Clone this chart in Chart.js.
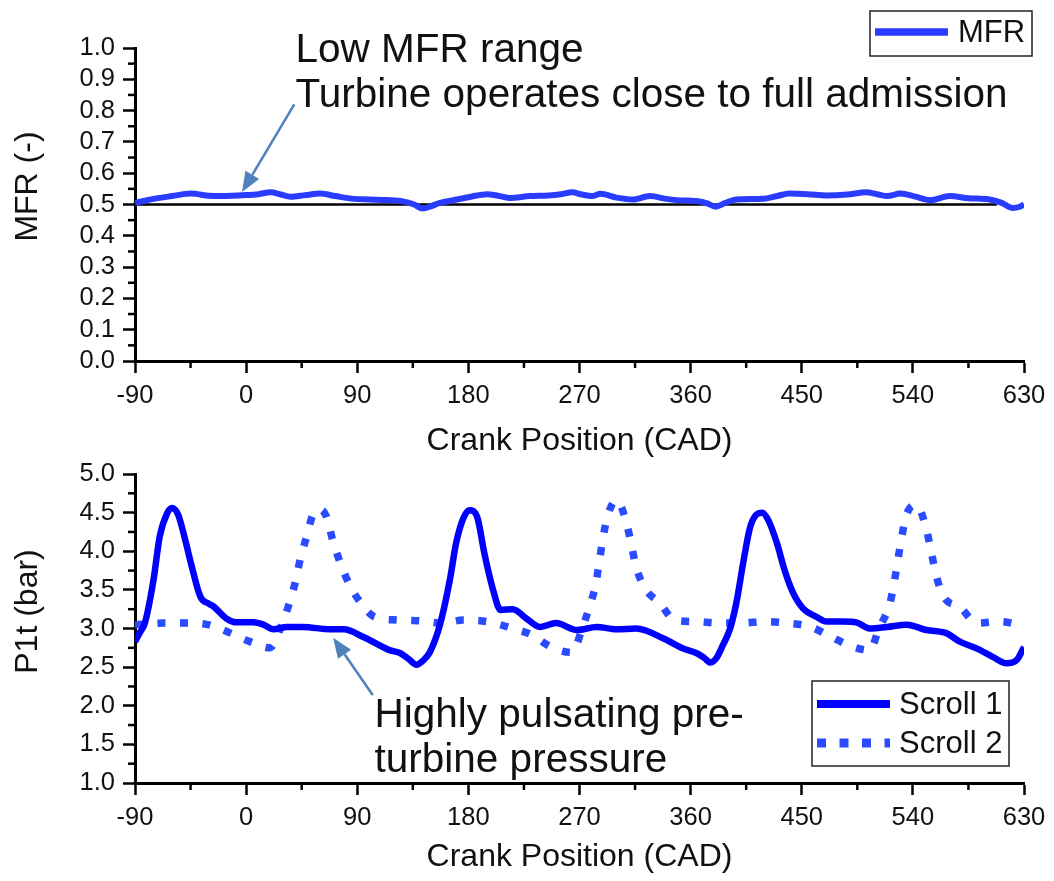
<!DOCTYPE html>
<html><head><meta charset="utf-8">
<script src="https://cdn.jsdelivr.net/npm/chart.js@4.4.1/dist/chart.umd.min.js"></script>
<style>
html,body{margin:0;padding:0;background:#fff;}
body{width:1054px;height:881px;position:relative;overflow:hidden;}
canvas{position:absolute;left:0;}
#c1{top:0;} #c2{top:450px;}
</style></head><body>
<canvas id="c1" width="1054" height="470"></canvas>
<canvas id="c2" width="1054" height="431"></canvas>
<script>
// ---------- data ----------
const xTickLabels = [-90, 0, 90, 180, 270, 360, 450, 540, 630];
const mfrYTicks = [0.0,0.1,0.2,0.3,0.4,0.5,0.6,0.7,0.8,0.9,1.0];
const p1tYTicks = [1.0,1.5,2.0,2.5,3.0,3.5,4.0,4.5,5.0];

const mfrDeg = [-90,-75,-60,-45,-30,-21,0,10,20,28,36,48,60,72,87,100,114,127,136,143,150,157,168,182,195,204,213,230,245,255,264,272,280,287,300,313,327,340,349,365,374,380,388,397,418,430,440,455,470,487,502,512,519,530,542,554,570,585,602,612,621,626,630];
const mfrVal = [0.505,0.518,0.527,0.535,0.528,0.527,0.530,0.533,0.539,0.532,0.525,0.530,0.535,0.527,0.518,0.516,0.514,0.510,0.500,0.487,0.495,0.505,0.514,0.525,0.533,0.528,0.521,0.527,0.529,0.533,0.539,0.532,0.527,0.534,0.522,0.516,0.527,0.518,0.514,0.511,0.503,0.493,0.505,0.516,0.518,0.527,0.535,0.533,0.529,0.532,0.539,0.532,0.527,0.535,0.525,0.514,0.527,0.520,0.516,0.505,0.489,0.492,0.500];
const refDeg = [-90, 608];
const refVal = [0.5, 0.5];

const s1Deg = [-90,-86,-82,-75,-70,-64,-60,-55,-50,-44,-37,-30,-26,-16,-8,6,14,22,33,46,68,79,95,116,125,132,138,143,149,157,165,170,176,181,187,193,200,206,216,227,238,251,268,284,300,316,338,354,365,371,376,381,386,392,397,403,408,413,418,423,430,436,443,451,462,470,484,494,505,519,535,551,567,578,592,605,616,624,630];
const s1Val = [2.83,2.95,3.07,3.63,4.19,4.49,4.56,4.47,4.19,3.80,3.41,3.32,3.28,3.13,3.08,3.08,3.05,2.99,3.02,3.02,2.99,2.99,2.89,2.72,2.68,2.60,2.53,2.58,2.70,3.05,3.63,4.10,4.43,4.53,4.45,3.97,3.50,3.24,3.25,3.13,3.02,3.07,2.98,3.02,2.99,3.00,2.87,2.74,2.68,2.62,2.56,2.62,2.78,3.00,3.33,3.89,4.30,4.47,4.50,4.40,4.10,3.76,3.46,3.26,3.15,3.09,3.09,3.08,3.00,3.02,3.05,2.98,2.94,2.83,2.74,2.63,2.55,2.59,2.76];

const s2Deg = [-90,-67,-49,-31,-14,3,19,29,35,40,44,49,54,60,65,70,76,83,92,104,122,141,158,176,195,214,231,247,264,272,278,283,286,289,293,300,308,312,316,323,335,347,365,382,401,420,439,457,473,490,505,513,521,525,528,531,535,543,551,555,559,565,578,592,611,630];
const s2Val = [3.05,3.07,3.07,3.05,2.95,2.83,2.75,3.05,3.33,3.61,3.91,4.19,4.47,4.54,4.45,4.15,3.86,3.59,3.35,3.15,3.11,3.10,3.07,3.11,3.09,3.01,2.92,2.76,2.69,2.99,3.28,3.56,3.86,4.17,4.47,4.66,4.37,4.08,3.79,3.52,3.33,3.11,3.09,3.07,3.07,3.09,3.07,3.02,2.90,2.77,2.72,3.02,3.30,3.61,3.90,4.19,4.48,4.60,4.28,3.98,3.68,3.41,3.28,3.07,3.09,3.03];

const pts = (xs, ys) => xs.map((x, i) => ({x, y: ys[i]}));

// ---------- styling helpers ----------
const FONT = "'Liberation Sans', Arial, Helvetica, sans-serif";
const TXT = '#111';

function xScale(h, padBottom) {
  return {
    type:'linear', min:xTickLabels[0], max:xTickLabels[xTickLabels.length-1],
    afterFit: s => { s.height = h; },
    afterBuildTicks: s => { s.ticks = xTickLabels.map(v => ({value:v})); },
    border:{display:true, color:'#000', width:3},
    grid:{drawOnChartArea:false, drawTicks:true, tickLength:12, tickWidth:2.5, tickColor:'#000', color:'#000'},
    ticks:{padding:8, color:TXT, font:{family:FONT, size:25.5}, maxRotation:0, autoSkip:false, callback:v => String(v)},
    title:{display:true, text:'Crank Position (CAD)', color:TXT, font:{family:FONT, size:32}, padding:{top:0, bottom:padBottom}}
  };
}
function yScale(tickVals) {
  return {
    type:'linear', min:tickVals[0], max:tickVals[tickVals.length-1],
    afterFit: s => { s.width = 135; },
    afterBuildTicks: s => { s.ticks = tickVals.map(v => ({value:v})); },
    border:{display:true, color:'#000', width:3},
    grid:{drawOnChartArea:false, drawTicks:true, tickLength:12, tickWidth:2.5, tickColor:'#000', color:'#000'},
    ticks:{padding:8, color:TXT, font:{family:FONT, size:25.5}, autoSkip:false, callback:v => Number(v).toFixed(1)},
    title:{display:false}
  };
}

// minor ticks
const minorTicks = {
  id:'minorTicks',
  afterDraw(chart, args, o) {
    const ctx = chart.ctx, xs = chart.scales.x, ys = chart.scales.y;
    ctx.save(); ctx.strokeStyle = '#000'; ctx.lineWidth = 2.5;
    for (let v = xs.min + o.xStep; v < xs.max; v += 2*o.xStep) {
      const p = xs.getPixelForValue(v);
      ctx.beginPath(); ctx.moveTo(p, xs.top); ctx.lineTo(p, xs.top + 7); ctx.stroke();
    }
    const n = Math.round((ys.max - ys.min) / o.yStep);
    for (let i = 1; i < n; i++) {
      const v = ys.min + i*o.yStep;
      if (Math.abs(v / o.yMajor - Math.round(v / o.yMajor)) < 1e-6) continue;
      const p = ys.getPixelForValue(v);
      ctx.beginPath(); ctx.moveTo(ys.right, p); ctx.lineTo(ys.right - 7, p); ctx.stroke();
    }
    ctx.restore();
  }
};

// rotated y-axis title, slightly above the axis centre (as in the reference)
const yTitle = {
  id:'yTitle',
  afterDraw(chart, args, o) {
    const ctx = chart.ctx, ca = chart.chartArea;
    ctx.save();
    ctx.translate(28, (ca.top + ca.bottom) / 2 - o.shift);
    ctx.rotate(-Math.PI / 2);
    ctx.font = `32px ${FONT}`; ctx.fillStyle = TXT; ctx.textAlign = 'center'; ctx.textBaseline = 'middle';
    ctx.fillText(o.text, 0, 0);
    ctx.restore();
  }
};

function drawArrow(ctx, x1, y1, x2, y2, color) {
  const a = Math.atan2(y2 - y1, x2 - x1), L = 20, W = 8;
  const bx = x2 - L*Math.cos(a), by = y2 - L*Math.sin(a);
  ctx.strokeStyle = color; ctx.fillStyle = color; ctx.lineWidth = 2.5;
  ctx.beginPath(); ctx.moveTo(x1, y1); ctx.lineTo(bx, by); ctx.stroke();
  ctx.beginPath(); ctx.moveTo(x2, y2);
  ctx.lineTo(bx + W*Math.sin(a), by - W*Math.cos(a));
  ctx.lineTo(bx - W*Math.sin(a), by + W*Math.cos(a));
  ctx.closePath(); ctx.fill();
}

const annot = {
  id:'annot',
  afterDraw(chart, args, o) {
    const ctx = chart.ctx, xs = chart.scales.x, ys = chart.scales.y;
    ctx.save();
    ctx.font = `40.5px ${FONT}`; ctx.fillStyle = TXT; ctx.textBaseline = 'alphabetic'; ctx.textAlign = 'left';
    o.lines.forEach(l => ctx.fillText(l.text, xs.getPixelForValue(l.x), ys.getPixelForValue(l.y)));
    const a = o.arrow;
    drawArrow(ctx, xs.getPixelForValue(a[0]), ys.getPixelForValue(a[1]), xs.getPixelForValue(a[2]), ys.getPixelForValue(a[3]), '#4f81bd');
    ctx.restore();
  }
};

const boxLegend = {
  id:'boxLegend',
  afterDraw(chart, args, o) {
    const ctx = chart.ctx;
    ctx.save();
    ctx.fillStyle = '#fff'; ctx.fillRect(o.x, o.y, o.w, o.h);
    ctx.strokeStyle = '#222'; ctx.lineWidth = 1.5; ctx.strokeRect(o.x, o.y, o.w, o.h);
    const ds = chart.data.datasets.filter(d => !d.noLegend);
    ds.forEach((d, i) => {
      const y = o.y + o.first + i*o.gap;
      ctx.strokeStyle = d.borderColor; ctx.lineWidth = d.borderWidth + 1.5;
      ctx.setLineDash(d.borderDash ? [9, 13.5] : []);
      ctx.beginPath(); ctx.moveTo(o.x + 5, y); ctx.lineTo(o.x + 78, y); ctx.stroke();
      ctx.setLineDash([]);
      ctx.fillStyle = TXT; ctx.font = `31px ${FONT}`; ctx.textBaseline = 'middle'; ctx.textAlign = 'left';
      ctx.fillText(d.label, o.x + o.tx, y + 1);
    });
    ctx.restore();
  }
};

Chart.register(minorTicks, yTitle, annot, boxLegend);

const common = {
  responsive:false, animation:false, devicePixelRatio:1,
  elements:{point:{radius:0}},
};

// ---------- top chart ----------
new Chart(document.getElementById('c1'), {
  type:'line',
  data:{datasets:[
    {label:'MFR', data:pts(mfrDeg, mfrVal), borderColor:'#2a3cff', borderWidth:6, cubicInterpolationMode:'monotone', fill:false},
    {label:'ref', noLegend:true, data:pts(refDeg, refVal), borderColor:'#000', borderWidth:2.5, fill:false}
  ]},
  options:{...common,
    layout:{padding:{top:48, right:30, left:0, bottom:0}},
    scales:{x:xScale(109, 9.4), y:yScale(mfrYTicks)},
    plugins:{legend:{display:false}, tooltip:{enabled:false},
      yTitle:{text:'MFR (-)', shift:18},
      minorTicks:{xStep:45, yStep:0.05, yMajor:0.1},
      annot:{lines:[{text:'Low MFR range', x:40, y:0.955},{text:'Turbine operates close to full admission', x:40, y:0.811}], arrow:[39, 0.82, -3.3, 0.54]},
      boxLegend:{x:870, y:11, w:162, h:45, first:21, gap:0, tx:88}
    }
  }
});

// ---------- bottom chart ----------
new Chart(document.getElementById('c2'), {
  type:'line',
  data:{datasets:[
    {label:'Scroll 1', data:pts(s1Deg, s1Val), borderColor:'#0000ff', borderWidth:6.5, cubicInterpolationMode:'monotone', fill:false},
    {label:'Scroll 2', data:pts(s2Deg, s2Val), borderColor:'#2a4bff', borderWidth:7.5, borderDash:[8, 14.5], borderCapStyle:'butt', cubicInterpolationMode:'monotone', fill:false}
  ]},
  options:{...common,
    layout:{padding:{top:24, right:30, left:0, bottom:0}},
    scales:{x:xScale(98, 4.4), y:yScale(p1tYTicks)},
    plugins:{legend:{display:false}, tooltip:{enabled:false},
      yTitle:{text:'P1t (bar)', shift:17},
      minorTicks:{xStep:45, yStep:0.25, yMajor:0.5},
      annot:{lines:[{text:'Highly pulsating pre-', x:104, y:1.725},{text:'turbine pressure', x:104, y:1.142}], arrow:[102.5, 2.14, 70.5, 2.88]},
      boxLegend:{x:812, y:231, w:197, h:85, first:23, gap:39, tx:87}
    }
  }
});
</script>
</body></html>
